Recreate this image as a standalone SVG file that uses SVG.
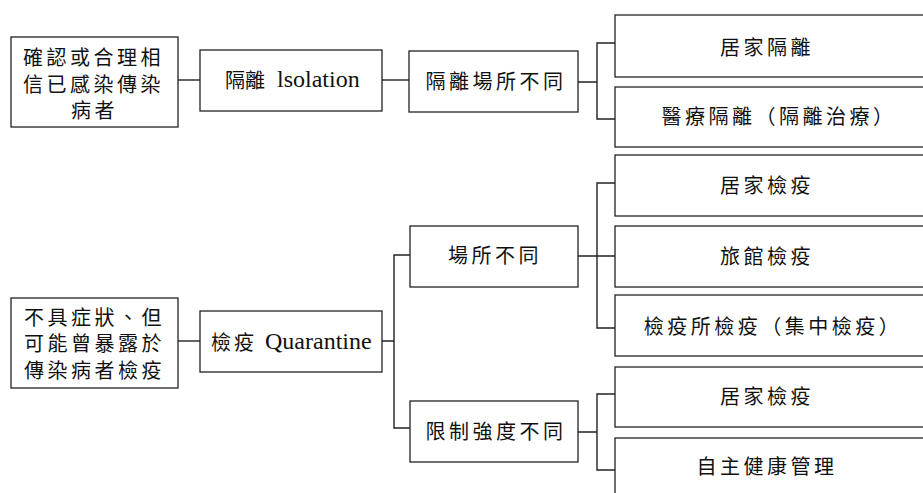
<svg xmlns="http://www.w3.org/2000/svg" width="923" height="493" viewBox="0 0 923 493">
<style>
.box{fill:#fff;stroke:#222;stroke-width:1.3}
.con{fill:none;stroke:#222;stroke-width:1.4}
.cjk{font-family:"Noto Sans CJK TC","Noto Sans CJK SC",sans-serif;font-size:20px;fill:#111}
.sp{letter-spacing:3.5px}
.mid{text-anchor:middle}
</style>
<rect width="923" height="493" fill="#fff"/>
<g id="connectors">
<path class="con" d="M178,80H200"/>
<path class="con" d="M382,80H409"/>
<path class="con" d="M578,82H597M615,43H597V119H615"/>
<path class="con" d="M178,341H200"/>
<path class="con" d="M382,341H394M410,255H394V428H410"/>
<path class="con" d="M578,256H615M615,183H597V328H615"/>
<path class="con" d="M578,432H597M615,394H597V470H615"/>
</g>
<g id="n-confirmed">
<rect class="box" x="11" y="37" width="167" height="90"/>
<text class="cjk sp"><tspan x="23" y="65">確認或合理相</tspan><tspan x="23" y="92">信已感染傳染</tspan><tspan x="71" y="118">病者</tspan></text>
</g>
<g id="n-isolation">
<rect class="box" x="200" y="50" width="182" height="61"/>
<text class="cjk" x="225" y="88">隔離 <tspan x="277" y="87" style="font-family:'Liberation Serif','Times New Roman',serif;font-size:24px">lsolation</tspan></text>
</g>
<g id="n-iso-place">
<rect class="box" x="409" y="51" width="169" height="61"/>
<text class="cjk sp mid" x="496" y="89">隔離場所不同</text>
</g>
<g id="n-home-iso">
<rect class="box" x="615" y="15" width="320" height="62"/>
<text class="cjk sp mid" x="767" y="55">居家隔離</text>
</g>
<g id="n-med-iso">
<rect class="box" x="615" y="87" width="320" height="60"/>
<text class="cjk sp mid" x="779" y="124">醫療隔離（隔離治療）</text>
</g>
<g id="n-asym">
<rect class="box" x="11" y="298" width="167" height="90"/>
<text class="cjk sp"><tspan x="24" y="325">不具症狀、但</tspan><tspan x="24" y="351">可能曾暴露於</tspan><tspan x="24" y="378">傳染病者檢疫</tspan></text>
</g>
<g id="n-quarantine">
<rect class="box" x="200" y="311" width="182" height="61"/>
<text class="cjk" x="211" y="350" letter-spacing="3">檢疫 <tspan x="265" y="349" letter-spacing="0" style="font-family:'Liberation Serif','Times New Roman',serif;font-size:24px">Quarantine</tspan></text>
</g>
<g id="n-place">
<rect class="box" x="410" y="226" width="168" height="61"/>
<text class="cjk sp mid" x="495" y="263">場所不同</text>
</g>
<g id="n-intensity">
<rect class="box" x="410" y="401" width="168" height="61"/>
<text class="cjk sp mid" x="496" y="439">限制強度不同</text>
</g>
<g id="n-home-q1">
<rect class="box" x="615" y="155" width="320" height="61"/>
<text class="cjk sp mid" x="767" y="193">居家檢疫</text>
</g>
<g id="n-hotel-q">
<rect class="box" x="615" y="226" width="320" height="61"/>
<text class="cjk sp mid" x="767" y="264">旅館檢疫</text>
</g>
<g id="n-center-q">
<rect class="box" x="615" y="295" width="320" height="61"/>
<text class="cjk sp mid" x="773" y="334">檢疫所檢疫（集中檢疫）</text>
</g>
<g id="n-home-q2">
<rect class="box" x="615" y="367" width="320" height="60"/>
<text class="cjk sp mid" x="767" y="404">居家檢疫</text>
</g>
<g id="n-self-health">
<rect class="box" x="615" y="438" width="320" height="70"/>
<text class="cjk sp mid" x="767" y="474">自主健康管理</text>
</g>
</svg>
